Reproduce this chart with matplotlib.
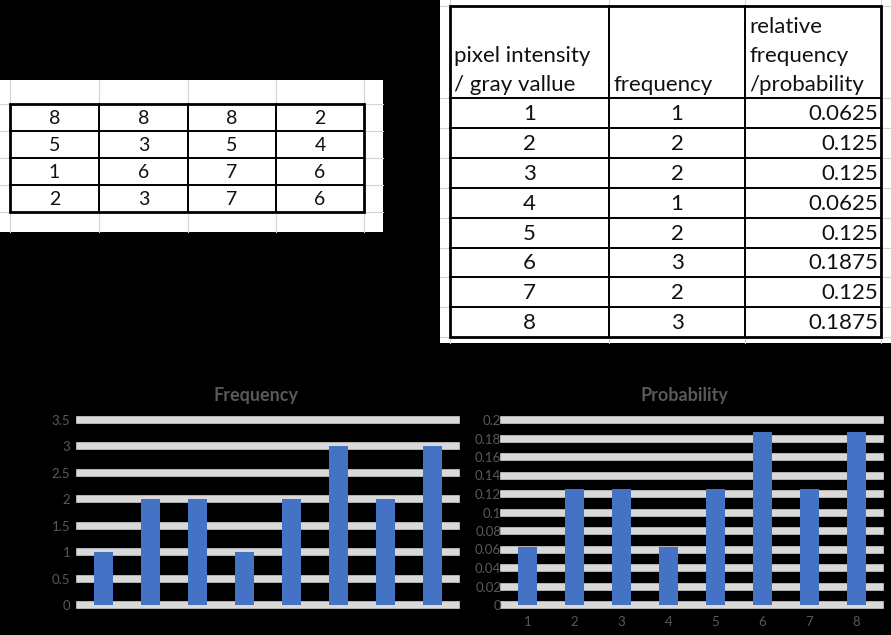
import matplotlib
matplotlib.use("Agg")
import matplotlib.pyplot as plt
from matplotlib.patches import Rectangle

# ---- data ----
image_matrix = [
    [8, 8, 8, 2],
    [5, 3, 5, 4],
    [1, 6, 7, 6],
    [2, 3, 7, 6],
]
gray_levels = [1, 2, 3, 4, 5, 6, 7, 8]
frequency = [1, 2, 2, 1, 2, 3, 2, 3]
probability = [0.0625, 0.125, 0.125, 0.0625, 0.125, 0.1875, 0.125, 0.1875]
headers = ["pixel intensity\n/ gray vallue", "frequency", "relative\nfrequency\n/probability"]
freq_ticks = [0, 0.5, 1, 1.5, 2, 2.5, 3, 3.5]
prob_ticks = [0, 0.02, 0.04, 0.06, 0.08, 0.1, 0.12, 0.14, 0.16, 0.18, 0.2]
titles = ["Frequency", "Probability"]

W, H = 891, 635
BAR = "#4472C4"
GRID = "#D9D9D9"
DIM = "#595959"
SHEET_GRID = "#D4D4D4"

plt.rcParams['font.family'] = ['Lato', 'DejaVu Sans']

fig = plt.figure(figsize=(W / 100, H / 100), dpi=100, facecolor="black")
bg = fig.add_axes([0, 0, 1, 1])
bg.set_xlim(0, W)
bg.set_ylim(H, 0)
bg.axis("off")
bg.set_facecolor("none")


def draw_sheet(area, col_edges, row_edges):
    x0, y0, x1, y1 = area
    bg.add_patch(Rectangle((x0, y0), x1 - x0, y1 - y0, facecolor="white", edgecolor="none", zorder=1))
    step_r = row_edges[1] - row_edges[0]
    step_c = col_edges[1] - col_edges[0]
    # faint spreadsheet cell lines, extended over the white area
    ys = [row_edges[0] - step_r] + list(row_edges) + [row_edges[-1] + (row_edges[-1] - row_edges[-2])]
    xs = [col_edges[0] - step_c] + list(col_edges) + [col_edges[-1] + step_c]
    for y in ys:
        if y0 <= y <= y1:
            bg.plot([x0, x1], [y, y], color=SHEET_GRID, lw=0.8, zorder=2)
    for x in xs:
        if x0 <= x <= x1:
            bg.plot([x, x], [y0, y1], color=SHEET_GRID, lw=0.8, zorder=2)
    # bordered table
    for y in row_edges[1:-1]:
        bg.plot([col_edges[0], col_edges[-1]], [y, y], color="black", lw=1.4, zorder=3)
    for x in col_edges[1:-1]:
        bg.plot([x, x], [row_edges[0], row_edges[-1]], color="black", lw=1.4, zorder=3)
    bg.add_patch(Rectangle((col_edges[0], row_edges[0]), col_edges[-1] - col_edges[0],
                           row_edges[-1] - row_edges[0], facecolor="none", edgecolor="black",
                           lw=2.0, zorder=4))


# ---- left sheet: the 4x4 image ----
lcols = [10, 99, 188, 276, 364]
lrows = [104, 131, 158, 185, 212]
draw_sheet((0, 80, 383, 232), lcols, lrows)
for i, row in enumerate(image_matrix):
    for j, v in enumerate(row):
        bg.text((lcols[j] + lcols[j + 1]) / 2, (lrows[i] + lrows[i + 1]) / 2 + 1, str(v),
                ha="center", va="center", fontsize=14, color="#111111", zorder=5)

# ---- right sheet: histogram table ----
rcols = [450, 609, 745, 881]
rrows = [6, 98] + [98 + 29.9 * (k + 1) for k in range(len(gray_levels))]
draw_sheet((440, 0, W, 343), rcols, rrows)
for j, h in enumerate(headers):
    bg.text(rcols[j] + 4, rrows[1] - 3, h, ha="left", va="bottom", fontsize=16,
            color="#111111", linespacing=1.55, zorder=5)
for i, (g, f, p) in enumerate(zip(gray_levels, frequency, probability)):
    yc = (rrows[i + 1] + rrows[i + 2]) / 2 + 1
    bg.text((rcols[0] + rcols[1]) / 2, yc, str(g), ha="center", va="center",
            fontsize=16, color="#111111", zorder=5)
    bg.text((rcols[1] + rcols[2]) / 2, yc, str(f), ha="center", va="center",
            fontsize=16, color="#111111", zorder=5)
    bg.text(rcols[2 + 1] - 3, yc, f"{p:g}", ha="right", va="center",
            fontsize=16, color="#111111", zorder=5)


# ---- bar charts ----
def bar_chart(rect, values, ticks, show_xlabels):
    ax = fig.add_axes(rect)
    ax.set_facecolor("none")
    x = list(range(len(values)))
    for t in ticks:
        ax.axhline(t, color=GRID, lw=5.5, zorder=1, clip_on=False)
    ax.bar(x, values, width=0.4, color=BAR, zorder=2)
    ax.set_xlim(-0.5, len(values) - 0.5)
    ax.set_ylim(ticks[0], ticks[-1])
    ax.set_yticks(ticks)
    ax.set_yticklabels([f"{t:g}" for t in ticks])
    ax.set_xticks(x)
    ax.set_xticklabels([str(g) for g in gray_levels] if show_xlabels else [])
    for s in ax.spines.values():
        s.set_visible(False)
    ax.tick_params(length=0, colors=DIM, labelsize=9.5)
    return ax


ax1 = bar_chart([80 / W, (H - 605) / H, 376 / W, 185 / H], frequency, freq_ticks, False)
ax1.tick_params(axis="y", pad=7)
ax2 = bar_chart([504 / W, (H - 605) / H, 376 / W, 185 / H], probability, prob_ticks, True)
ax2.tick_params(axis="y", pad=2)
ax2.tick_params(axis="x", pad=8)

fig.text(256 / W, 1 - 395 / H, titles[0], ha="center", va="center", fontsize=13,
         fontweight="bold", color=DIM)
fig.text(684 / W, 1 - 395 / H, titles[1], ha="center", va="center", fontsize=13,
         fontweight="bold", color=DIM)

fig.savefig("out.png", dpi=100, facecolor="black")
